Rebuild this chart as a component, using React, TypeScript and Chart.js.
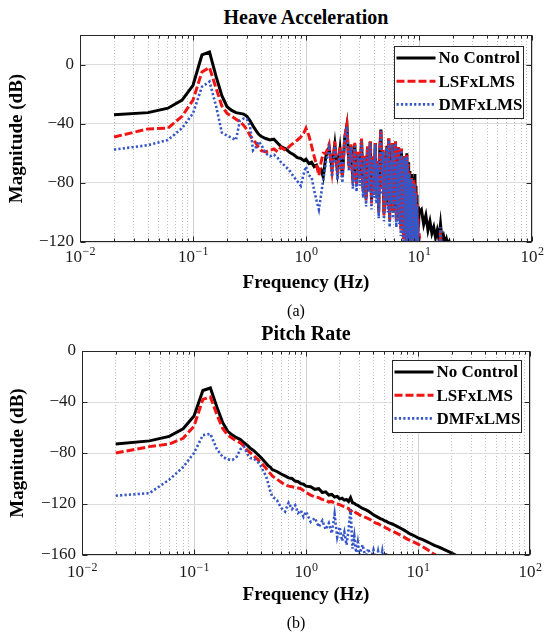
import { useEffect, useRef } from 'react';
import { Chart, registerables, type ChartConfiguration, type Plugin } from 'chart.js';

Chart.register(...registerables);

const SERIF = '"Liberation Serif", "Times New Roman", serif';

const SERIES_NAMES = ['No Control', 'LSFxLMS', 'DMFxLMS'];

const X_DECADES = [0.01, 0.1, 1, 10, 100];
const X_DECADE_EXPONENTS = ['−2', '−1', '0', '1', '2']; // printed as 10^exp
const X_MINOR_STEPS = [2, 3, 4, 5, 6, 7, 8, 9];

// ---- (a) Heave acceleration ----
const HEAVE_Y_TICKS = [-120, -80, -40, 0];

const HEAVE_FREQ = [
  0.02, 0.04, 0.06, 0.08, 0.1, 0.12, 0.14, 0.16, 0.18, 0.2,
  0.22, 0.24, 0.26, 0.28, 0.3, 0.32, 0.34, 0.36, 0.38, 0.4,
  0.44, 0.48, 0.52, 0.56, 0.6, 0.66, 0.72, 0.78, 0.84, 0.9,
  0.96, 1.0, 1.06, 1.12, 1.18, 1.24, 1.3, 1.36, 1.42,
  1.5, 1.6, 1.7, 1.8, 1.9, 2.0, 2.1, 2.2, 2.3, 2.4,
  2.5, 2.6, 2.7, 2.8, 2.9, 3.0, 3.1, 3.2, 3.3, 3.4,
  3.5, 3.6, 3.7, 3.8, 3.9, 4.0, 4.1, 4.2, 4.3, 4.4,
  4.5, 4.6, 4.7, 4.8, 4.9, 5.0, 5.1, 5.2, 5.3, 5.4,
  5.5, 5.6, 5.7, 5.8, 5.9, 6.0, 6.1, 6.2, 6.3, 6.4,
  6.5, 6.6, 6.7, 6.8, 6.9, 7.0, 7.1, 7.2, 7.3, 7.4,
  7.5, 7.6, 7.7, 7.8, 7.9, 8.0, 8.1, 8.2, 8.3, 8.4,
  8.5, 8.6, 8.7, 8.8, 8.9, 9.0, 9.1, 9.2, 9.3, 9.4,
  9.5, 9.6, 9.7, 9.8, 9.9, 10.0,
  10.5, 11, 11.5, 12, 12.5, 13, 13.5, 14, 14.5, 15, 15.5, 16, 16.5, 17, 17.5, 18, 18.5, 19,
];

const HEAVE_NO_CONTROL = [
  -34, -32.5, -29.5, -24, -14, 6.5, 8.5, -8, -21, -28.5,
  -31, -32.5, -33, -33.5, -35, -38, -41.5, -44.5, -47, -48.5,
  -50, -51, -50.5, -53, -55.5, -57, -59.5, -61, -63, -63.5,
  -65, -64, -67, -66, -69, -68, -72, -71, -76,
  -62, -56, -70, -54, -72, -57, -75, -50, -41, -68,
  -55, -78, -54, -80, -60, -76, -51, -84, -62, -90,
  -56, -80, -52, -92, -63, -85, -53, -88, -66, -98,
  -57, -44, -82, -58, -100, -62, -86, -55, -95, -50,
  -104, -64, -88, -53, -98, -60, -92, -52, -104, -66,
  -90, -56, -100, -62, -108, -57, -96, -66, -112, -62,
  -104, -70, -116, -60, -110, -66, -118, -72, -112, -76,
  -120, -74, -116, -80, -122, -76, -118, -74, -120, -82,
  -112, -88, -118, -96, -110, -100,
  -98, -108, -102, -112, -106, -114, -110, -117, -112, -118, -108, -119, -116, -121, -118, -122, -120, -124,
];

const HEAVE_LSFXLMS = [
  -49, -43.5, -43, -35, -24, -5, -2, -16, -28, -33,
  -35, -37, -38.5, -41, -44, -48, -51, -53, -56, -58,
  -59, -58, -57, -59, -56, -58, -55, -53, -51, -49,
  -46, -43, -48, -55, -62, -68, -75, -66, -60,
  -60, -54, -72, -52, -74, -56, -76, -49, -41, -70,
  -54, -80, -53, -82, -59, -78, -50, -86, -61, -92,
  -55, -82, -52, -94, -62, -86, -53, -90, -65, -100,
  -57, -44, -84, -58, -102, -62, -88, -55, -96, -50,
  -106, -64, -90, -53, -100, -60, -94, -52, -106, -66,
  -92, -56, -104, -62, -112, -57, -100, -66, -118, -62,
  -110, -70, -122, -61, -120, -67, -126, -73, -124, -77,
  -130, -76, -128, -82, -132, -78, -130, -80, -132, -86,
  -128, -94, -134, -104, -130, -114,
  -126, -124, -130, -134, -138, -138, -138, -138, -138, -138, -112, -138, -140, -140, -140, -140, -140, -140,
];

const HEAVE_DMFXLMS = [
  -57.5, -54.5, -51, -43, -33, -15, -11.5, -28, -46, -48,
  -49.5, -51, -38, -36.5, -37, -42, -58, -56, -52, -54,
  -60, -62, -61, -63, -66, -69, -72, -76, -79, -82,
  -73, -69, -75, -76, -85, -92, -98, -88, -78,
  -66, -57, -76, -55, -78, -58, -80, -51, -42, -72,
  -56, -84, -55, -86, -61, -82, -52, -90, -63, -96,
  -57, -86, -53, -98, -64, -90, -54, -94, -67, -104,
  -58, -45, -88, -59, -106, -63, -92, -56, -100, -51,
  -110, -65, -94, -54, -104, -61, -98, -53, -110, -67,
  -96, -57, -108, -63, -116, -58, -104, -67, -122, -63,
  -114, -71, -126, -62, -124, -68, -130, -74, -128, -78,
  -134, -77, -132, -84, -136, -80, -134, -82, -136, -88,
  -132, -96, -138, -106, -134, -118,
  -130, -126, -134, -138, -140, -140, -142, -140, -142, -140, -110, -140, -145, -145, -145, -145, -145, -145,
];

// ---- (b) Pitch rate ----
const PITCH_Y_TICKS = [-160, -120, -80, -40, 0];

const PITCH_FREQ = [
  0.02, 0.04, 0.06, 0.08, 0.1, 0.12, 0.14, 0.16, 0.18, 0.2,
  0.22, 0.24, 0.26, 0.28, 0.3, 0.32, 0.34, 0.36, 0.38, 0.4,
  0.42, 0.44, 0.46, 0.48, 0.5,
  0.55, 0.6, 0.65, 0.7, 0.75, 0.8, 0.85, 0.9, 0.95, 1.0,
  1.1, 1.2, 1.3, 1.4, 1.5, 1.6, 1.7, 1.8, 1.9, 2.0,
  2.1, 2.2, 2.3, 2.4, 2.5, 2.6, 2.7, 2.8, 2.9, 3.0,
  3.2, 3.4, 3.6, 3.8, 4.0, 4.2, 4.4, 4.6, 4.8, 5.0,
  5.2, 5.4, 5.6, 5.8, 6.0,
  6.5, 7, 7.5, 8, 8.5, 9, 9.5, 10,
  11, 12, 13, 14, 15, 16, 17, 18, 19, 20, 21, 22,
];

const PITCH_NO_CONTROL = [
  -73, -70.5, -67, -61, -51, -31, -29, -44, -56, -63,
  -66, -68, -69.5, -72, -74, -76.5, -78, -80, -82, -84,
  -86, -88, -90, -91, -93,
  -94.5, -96.5, -98, -99.5, -100, -102, -102.5, -104, -104.5, -106,
  -106.5, -108.5, -108, -111, -110.5, -113, -112.5, -114.5, -114, -116,
  -115.5, -117, -116.5, -118, -115, -119, -119.5, -120.5, -121, -122,
  -123.5, -124.5, -125.5, -127, -128.5, -129.5, -130.5, -131.5, -132, -133,
  -133.5, -134.5, -135, -135.5, -136,
  -137.5, -139, -140.5, -142, -143.5, -144.5, -145.5, -146.5,
  -148, -149.5, -151, -152.5, -153.5, -154.5, -155.5, -156.5, -157.5, -158.5, -159.5, -160.5,
];

const PITCH_LSFXLMS = [
  -80, -75, -73, -68.5, -59, -38, -36, -50, -60.5, -66,
  -68.5, -70.5, -72, -75, -78, -80, -82, -84, -86, -88,
  -90, -92, -94.5, -96, -98,
  -100.5, -103, -105, -106, -106.5, -107, -107.5, -108, -109.5, -111,
  -113, -114.5, -115, -116.5, -117, -118.5, -118, -119.5, -120, -120.5,
  -121.5, -122, -123, -123.5, -126, -124.5, -125.5, -127, -127.5, -128.5,
  -129.5, -130.5, -131.5, -132.5, -134, -135, -135.5, -136.5, -137.5, -138,
  -139, -139.5, -140.5, -141, -141.5,
  -143, -144.5, -146, -147.5, -148.5, -149.5, -150.5, -151.5,
  -153.5, -155.5, -157.5, -159.5, -161, -163, -164.5, -166, -167.5, -169, -170, -171,
];

const PITCH_DMFXLMS = [
  -113.5, -111.5, -101, -91, -80, -66, -65, -77, -83, -85,
  -85.5, -83, -77, -75, -81, -84, -84.5, -86, -88, -91,
  -95, -98, -104, -110, -114,
  -117, -123, -126, -119, -124, -121, -127, -125, -130, -126,
  -134, -131, -138, -133, -140, -135, -143, -128, -146, -138,
  -149, -142, -152, -140, -124, -155, -145, -158, -150, -160,
  -152, -162, -155, -163, -156, -165, -157, -166, -157, -168,
  -158, -170, -172, -175, -176,
  -178, -180, -180, -180, -180, -180, -180, -180,
  -180, -180, -180, -180, -180, -180, -180, -180, -180, -180, -180, -180,
];

const SERIES_STYLE = [
  { color: '#000000', width: 3, dash: [] as number[] },
  { color: '#f01414', width: 3, dash: [8, 3] },
  { color: '#3556c6', width: 2.6, dash: [2.2, 2.2] },
];

// MATLAB style box with inward ticks on all four sides
const framePlugin: Plugin = {
  id: 'matlabFrame',
  afterDatasetsDraw(chart) {
    const { ctx, chartArea: a, scales } = chart;
    const L = Math.round(a.left) + 0.5;
    const R = Math.round(a.right) - 0.5;
    const T = Math.round(a.top) + 0.5;
    const B = Math.round(a.bottom) - 0.5;
    ctx.save();
    ctx.strokeStyle = '#262626';
    ctx.lineWidth = 1;
    ctx.beginPath();
    const xTick = (px: number, len: number) => {
      const x = Math.round(px) + 0.5;
      ctx.moveTo(x, B); ctx.lineTo(x, B - len);
      ctx.moveTo(x, T); ctx.lineTo(x, T + len);
    };
    scales.x.ticks.forEach((t) => xTick(scales.x.getPixelForValue(t.value), 5));
    scales.xMinor.ticks.forEach((t) => xTick(scales.xMinor.getPixelForValue(t.value), 3));
    scales.y.ticks.forEach((t) => {
      const y = Math.round(scales.y.getPixelForValue(t.value)) + 0.5;
      ctx.moveTo(L, y); ctx.lineTo(L + 5, y);
      ctx.moveTo(R, y); ctx.lineTo(R - 5, y);
    });
    ctx.stroke();
    ctx.strokeRect(L, T, R - L, B - T);
    ctx.restore();
  },
};

// 10^n tick labels with a real raised exponent
const powerLabelPlugin: Plugin = {
  id: 'powerLabels',
  afterDraw(chart, _args, opts: any) {
    const { ctx, chartArea: a, scales } = chart;
    const baseline = a.bottom + opts.baseline;
    ctx.save();
    ctx.fillStyle = '#1a1a1a';
    ctx.textBaseline = 'alphabetic';
    ctx.textAlign = 'left';
    scales.x.ticks.forEach((t, i) => {
      const px = scales.x.getPixelForValue(t.value);
      ctx.font = `17px ${SERIF}`;
      const wBase = ctx.measureText('10').width;
      ctx.font = `12px ${SERIF}`;
      const exp = X_DECADE_EXPONENTS[i];
      const wExp = ctx.measureText(exp).width;
      const x0 = px - (wBase + wExp) / 2;
      ctx.font = `17px ${SERIF}`;
      ctx.fillText('10', x0, baseline);
      ctx.font = `12px ${SERIF}`;
      ctx.fillText(exp, x0 + wBase + 0.5, baseline - 6.5);
    });
    ctx.restore();
  },
};

const boxLegendPlugin: Plugin = {
  id: 'boxLegend',
  afterDatasetsDraw(chart, _args, opts: any) {
    const { ctx, chartArea: a } = chart;
    const w = 129;
    const h = 72;
    const left = Math.round(a.right - opts.insetRight - w) + 0.5;
    const top = Math.round(a.top + opts.insetTop) + 0.5;
    ctx.save();
    ctx.fillStyle = '#ffffff';
    ctx.fillRect(left, top, w, h);
    ctx.strokeStyle = '#262626';
    ctx.lineWidth = 1;
    ctx.strokeRect(left, top, w, h);
    ctx.font = `bold 17px ${SERIF}`;
    ctx.textBaseline = 'middle';
    ctx.fillStyle = '#000';
    SERIES_NAMES.forEach((name, i) => {
      const y = top + 11.5 + i * 23.2;
      const s = SERIES_STYLE[i];
      ctx.beginPath();
      ctx.strokeStyle = s.color;
      ctx.lineWidth = s.width;
      ctx.setLineDash(s.dash);
      ctx.moveTo(left + 2, y);
      ctx.lineTo(left + 41, y);
      ctx.stroke();
      ctx.setLineDash([]);
      ctx.fillText(name, left + 44, y + 1);
    });
    ctx.restore();
  },
};

interface PanelProps {
  freq: number[];
  series: number[][];
  yTicks: number[];
  yMin: number;
  yMax: number;
  top: number;
  height: number;
  area: { left: number; right: number; top: number; bottom: number };
  xLabelBaseline: number;
  xTitlePad: number;
  yTitlePad: number;
  legendTop: number;
}

const WIDTH = 550;
const X_AXIS_H = 56;

function Panel(p: PanelProps) {
  const canvasRef = useRef<HTMLCanvasElement>(null);

  useEffect(() => {
    if (!canvasRef.current) return;
    const minorTicks = X_DECADES.slice(0, -1).flatMap((d) => X_MINOR_STEPS.map((m) => d * m));

    const datasets = p.series.map((vals, i) => ({
      label: SERIES_NAMES[i],
      data: p.freq.map((f, j) => ({ x: f, y: vals[j] })),
      borderColor: SERIES_STYLE[i].color,
      borderWidth: SERIES_STYLE[i].width,
      borderDash: SERIES_STYLE[i].dash,
      borderCapStyle: 'butt' as const,
      borderJoinStyle: 'miter' as const,
      pointRadius: 0,
      tension: 0,
      fill: false,
      clip: 0,
      order: 3 - i, // DMFxLMS drawn on top, as in the MATLAB figure
    }));

    const config: ChartConfiguration<'line'> = {
      type: 'line',
      data: { datasets },
      options: {
        responsive: false,
        animation: false,
        events: [],
        layout: {
          padding: {
            top: p.area.top,
            right: WIDTH - p.area.right,
            bottom: p.height - p.area.bottom - X_AXIS_H,
            left: 0,
          },
        },
        plugins: {
          legend: { display: false },
          tooltip: { enabled: false },
          title: { display: false },
          boxLegend: { insetRight: 9, insetTop: p.legendTop },
          powerLabels: { baseline: p.xLabelBaseline },
        } as any,
        scales: {
          xMinor: {
            type: 'logarithmic',
            position: 'bottom',
            min: 0.01,
            max: 100,
            afterBuildTicks: (s: any) => { s.ticks = minorTicks.map((v) => ({ value: v })); },
            afterFit: (s: any) => { s.height = 0; },
            ticks: { display: false },
            grid: { color: '#bdbdbd', lineWidth: 1, drawTicks: false },
            border: { display: false, dash: [1, 2] },
          },
          x: {
            type: 'logarithmic',
            position: 'bottom',
            min: 0.01,
            max: 100,
            afterBuildTicks: (s: any) => { s.ticks = X_DECADES.map((v) => ({ value: v, major: true })); },
            afterFit: (s: any) => { s.height = X_AXIS_H; },
            ticks: { display: false },
            grid: { color: '#d0d0d0', lineWidth: 1, drawTicks: false },
            border: { display: false },
            title: {
              display: true,
              text: 'Frequency (Hz)',
              color: '#000',
              font: { family: SERIF, size: 19, weight: 'bold' },
              padding: { top: 0, bottom: p.xTitlePad },
            },
          },
          y: {
            type: 'linear',
            min: p.yMin,
            max: p.yMax,
            afterBuildTicks: (s: any) => { s.ticks = p.yTicks.map((v) => ({ value: v })); },
            afterFit: (s: any) => { s.width = p.area.left; },
            ticks: {
              padding: 6,
              color: '#1a1a1a',
              font: { family: SERIF, size: 17 },
              callback: (v: any) => (Number(v) < 0 ? '−' + Math.abs(Number(v)) : String(v)),
            },
            grid: { color: '#dcdcdc', lineWidth: 1, drawTicks: false },
            border: { display: false },
            title: {
              display: true,
              text: 'Magnitude (dB)',
              color: '#000',
              font: { family: SERIF, size: 19, weight: 'bold' },
              padding: { top: p.yTitlePad, bottom: 0 },
            },
          },
        },
      },
      plugins: [framePlugin, boxLegendPlugin, powerLabelPlugin],
    };

    const chart = new Chart(canvasRef.current, config);
    return () => chart.destroy();
  }, []);

  return (
    <canvas
      ref={canvasRef}
      width={WIDTH}
      height={p.height}
      style={{ position: 'absolute', left: 0, top: p.top, width: WIDTH, height: p.height }}
    />
  );
}

function Label({ text, cx, cy, size, bold }: { text: string; cx: number; cy: number; size: number; bold?: boolean }) {
  return (
    <div
      style={{
        position: 'absolute',
        left: cx - 150,
        width: 300,
        top: cy - size * 0.6,
        lineHeight: `${size * 1.2}px`,
        fontSize: size,
        fontWeight: bold ? 700 : 400,
        fontFamily: SERIF,
        textAlign: 'center',
        color: '#000',
        whiteSpace: 'nowrap',
      }}
    >
      {text}
    </div>
  );
}

export default function App() {
  return (
    <div style={{ position: 'fixed', left: 0, top: 0, width: 550, height: 637, background: '#fff', overflow: 'hidden' }}>
      <Label text="Heave Acceleration" cx={306} cy={17} size={20} bold />
      <Panel
        freq={HEAVE_FREQ}
        series={[HEAVE_NO_CONTROL, HEAVE_LSFXLMS, HEAVE_DMFXLMS]}
        yTicks={HEAVE_Y_TICKS}
        yMin={-120}
        yMax={20}
        top={0}
        height={318}
        area={{ left: 80, right: 532, top: 35, bottom: 242 }}
        xLabelBaseline={19.5}
        xTitlePad={3.6}
        yTitlePad={5.6}
        legendTop={11}
      />
      <Label text="(a)" cx={296} cy={311} size={16} />
      <Label text="Pitch Rate" cx={306} cy={333} size={20} bold />
      <Panel
        freq={PITCH_FREQ}
        series={[PITCH_NO_CONTROL, PITCH_LSFXLMS, PITCH_DMFXLMS]}
        yTicks={PITCH_Y_TICKS}
        yMin={-160}
        yMax={0}
        top={318}
        height={300}
        area={{ left: 82, right: 530, top: 33, bottom: 237 }}
        xLabelBaseline={22}
        xTitlePad={4.6}
        yTitlePad={6.6}
        legendTop={9}
      />
      <Label text="(b)" cx={296} cy={623} size={16} />
    </div>
  );
}
